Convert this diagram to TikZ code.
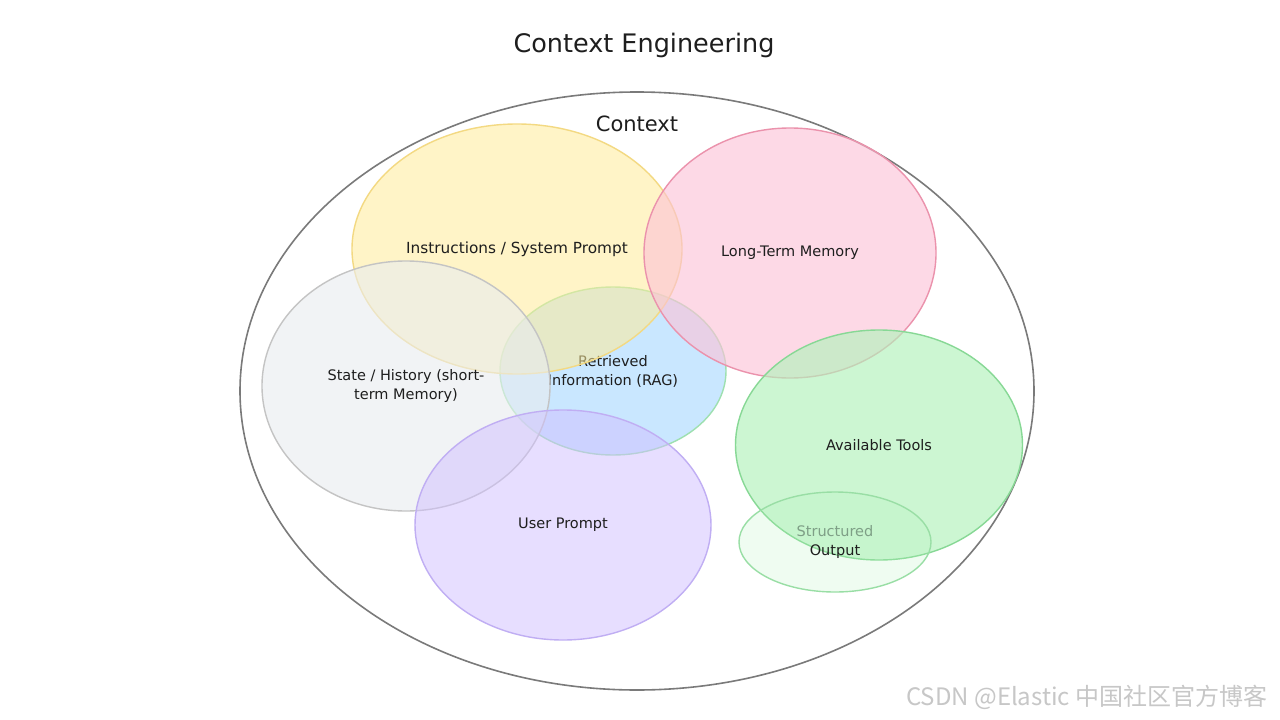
\documentclass[tikz,border=0pt]{standalone}
\usepackage{fontspec}
\setmainfont{DejaVu Sans}
\newfontfamily\cjkfont{Noto Sans CJK SC}
\usetikzlibrary{shapes.geometric}
\definecolor{ylwfill}{HTML}{FFEC99}
\definecolor{ylwline}{HTML}{F3D982}
\definecolor{pnkfill}{HTML}{FCC2D7}
\definecolor{pnkline}{HTML}{EB92AC}
\definecolor{gryfill}{HTML}{E9ECEF}
\definecolor{gryline}{HTML}{C4C4C4}
\definecolor{blufill}{HTML}{A5D8FF}
\definecolor{bluline}{HTML}{9EE0B0}
\definecolor{purfill}{HTML}{D0BFFF}
\definecolor{purline}{HTML}{C0AEF3}
\definecolor{grnfill}{HTML}{B2F2BB}
\definecolor{grnline}{HTML}{87D895}
\definecolor{outline}{HTML}{7A7A7A}
\definecolor{inktext}{HTML}{1E1E1E}
\definecolor{fadedtext}{HTML}{7E9F86}
\tikzset{
  x=1pt, y=-1pt,
  blob/.style={ellipse, draw, line width=1.4pt, inner sep=0pt,
    text opacity=1, draw opacity=1, align=center, text=inktext,
    font=\fontsize{14.5}{19}\selectfont},
  titletext/.style={text=inktext, font=\fontsize{25.5}{30}\selectfont},
  subtitletext/.style={text=inktext, font=\fontsize{21}{25}\selectfont},
  marktext/.style={text=black!22, font=\cjkfont\fontsize{24}{28}\selectfont, anchor=east}
}
\begin{document}
\begin{tikzpicture}
\useasboundingbox (0,0) rectangle (1280,720);
\fill[white] (0,0) rectangle (1280,720);
% outer context ellipse
\node[ellipse, draw=outline, line width=1.6pt, minimum width=794pt, minimum height=598pt, inner sep=0pt] (ctx) at (637,391) {};
\node[titletext] (title) at (644,45) {Context Engineering};
\node[subtitletext] (ctxlabel) at (637,124) {Context};
% overlapping sets
\node[blob, draw=bluline, fill=blufill, fill opacity=0.6, minimum width=226pt, minimum height=168pt] (rag) at (613,371) {Retrieved\\Information (RAG)};
\node[blob, draw=ylwline, fill=ylwfill, fill opacity=0.55, minimum width=330pt, minimum height=250pt, font=\fontsize{15.3}{19}\selectfont] (sys) at (517,249) {Instructions / System Prompt};
\node[blob, draw=pnkline, fill=pnkfill, fill opacity=0.62, minimum width=292pt, minimum height=250pt] (ltm) at (790,253) {Long-Term Memory};
\node[blob, draw=gryline, fill=gryfill, fill opacity=0.6, minimum width=288pt, minimum height=250pt] (hist) at (406,386) {State / History (short-\\term Memory)};
\node[blob, draw=purline, fill=purfill, fill opacity=0.5, minimum width=296pt, minimum height=230pt] (user) at (563,525) {User Prompt};
\node[blob, draw=grnline, fill=grnfill, fill opacity=0.65, minimum width=287pt, minimum height=230pt] (tools) at (879,445) {Available Tools};
\node[blob, draw=grnline!85, fill=grnfill, fill opacity=0.2, minimum width=192pt, minimum height=100pt] (out) at (835,542) {\textcolor{fadedtext}{Structured}\\Output};
% watermark
\node[marktext] (mark) at (1271,697) {CSDN @Elastic 中国社区官方博客};
\end{tikzpicture}
\end{document}
